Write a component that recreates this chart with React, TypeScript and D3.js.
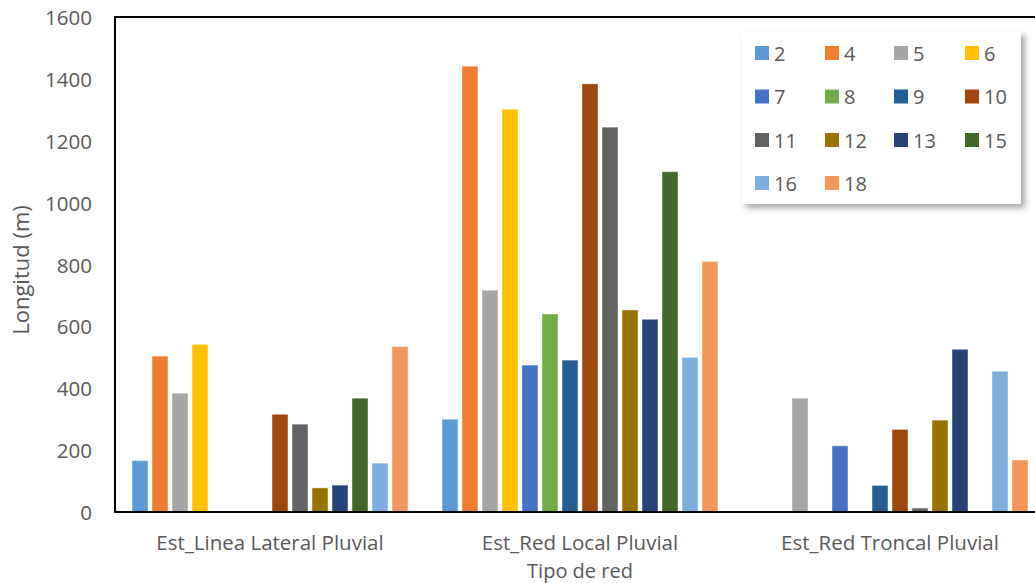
import React from "react";
import * as d3 from "d3";

// Network types (x categories)
const categories = ["Est_Linea Lateral Pluvial", "Est_Red Local Pluvial", "Est_Red Troncal Pluvial"];

// Series keys (diameter classes) and their colours
const seriesKeys = ["2", "4", "5", "6", "7", "8", "9", "10", "11", "12", "13", "15", "16", "18"];
const seriesColors = [
  "#5B9BD5", "#ED7D31", "#A5A5A5", "#FFC000", "#4472C4", "#70AD47", "#255E91",
  "#9E480E", "#636363", "#997300", "#264478", "#43682B", "#7CAFDD", "#F1975A",
];

// Length (m) per series, one value per category
const lateralValues = [166, 504, 384, 542, 0, 0, 3, 316, 284, 78, 87, 368, 158, 535];
const localValues = [300, 1441, 717, 1302, 475, 640, 491, 1384, 1244, 653, 623, 1100, 500, 810];
const troncalValues = [0, 0, 368, 0, 214, 0, 86, 267, 13, 297, 526, 0, 455, 168];

const yTicks = [0, 200, 400, 600, 800, 1000, 1200, 1400, 1600];

const W = 1035;
const H = 583;
const plot = { left: 115, right: 1045, top: 17, bottom: 512 };
const FONT = "'Open Sans', sans-serif";
const TEXT = "#595959";

export default function App() {
  const valuesByCat = [lateralValues, localValues, troncalValues];

  const x0 = d3
    .scaleBand<string>()
    .domain(categories)
    .range([plot.left, plot.right])
    .paddingInner(30 / 310)
    .paddingOuter(15 / 310);

  const x1 = d3.scaleBand<string>().domain(seriesKeys).range([0, x0.bandwidth()]);

  const y = d3.scaleLinear().domain([0, 1600]).range([plot.bottom, plot.top]);

  const legendCols = [755, 825, 894, 965];
  const legendRows = [53, 96.5, 140, 183];

  return (
    <svg
      width={W}
      height={H}
      style={{ position: "absolute", left: 0, top: 0, background: "#fff" }}
      fontFamily={FONT}
    >
      <defs>
        <filter id="legendShadow" x="-10%" y="-10%" width="130%" height="130%">
          <feDropShadow dx="4" dy="4" stdDeviation="3" floodColor="#000" floodOpacity="0.35" />
        </filter>
      </defs>
      <rect x={0} y={0} width={W} height={H} fill="#fff" />

      {/* bars */}
      {categories.map((cat, ci) => (
        <g key={cat} transform={`translate(${x0(cat)},0)`}>
          {seriesKeys.map((k, si) => {
            const v = valuesByCat[ci][si];
            if (!v) return null;
            const bx = x1(k)! + 2;
            const bw = x1.bandwidth() - 4;
            return (
              <rect
                key={k}
                x={bx}
                y={y(v)}
                width={bw}
                height={plot.bottom - y(v)}
                fill={seriesColors[si]}
                stroke="#fff"
                strokeOpacity={0.45}
                strokeWidth={1}
              />
            );
          })}
        </g>
      ))}

      {/* plot frame */}
      <rect
        x={plot.left}
        y={plot.top}
        width={plot.right - plot.left}
        height={plot.bottom - plot.top}
        fill="none"
        stroke="#000"
        strokeWidth={2}
      />

      {/* y tick labels */}
      {yTicks.map((t) => (
        <text
          key={t}
          x={92}
          y={y(t)}
          textAnchor="end"
          dominantBaseline="central"
          fontSize={20.5}
          fill={TEXT}
        >
          {t}
        </text>
      ))}

      {/* category labels */}
      {categories.map((cat) => (
        <text
          key={cat}
          x={x0(cat)! + x0.bandwidth() / 2}
          y={550}
          textAnchor="middle"
          fontSize={20.5}
          fill={TEXT}
        >
          {cat}
        </text>
      ))}

      {/* axis titles */}
      <text x={580} y={578} textAnchor="middle" fontSize={20} fill={TEXT}>
        Tipo de red
      </text>
      <text
        transform="translate(29,270) rotate(-90)"
        textAnchor="middle"
        fontSize={22}
        fill={TEXT}
      >
        Longitud (m)
      </text>

      {/* legend */}
      <rect x={742} y={31} width={279} height={173} fill="#fff" filter="url(#legendShadow)" />
      {seriesKeys.map((k, i) => {
        const cx = legendCols[i % 4];
        const cy = legendRows[Math.floor(i / 4)];
        return (
          <g key={k}>
            <rect x={cx} y={cy - 7} width={14} height={14} fill={seriesColors[i]} />
            <text x={cx + 19} y={cy} dominantBaseline="central" fontSize={20} fill={TEXT}>
              {k}
            </text>
          </g>
        );
      })}
    </svg>
  );
}
